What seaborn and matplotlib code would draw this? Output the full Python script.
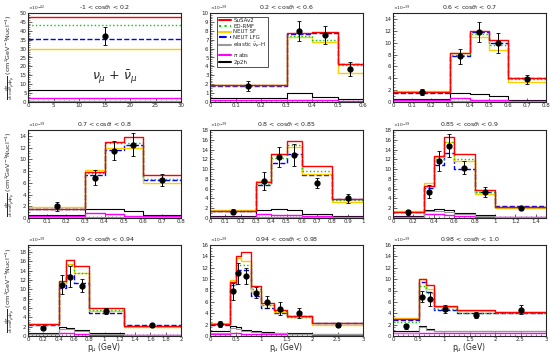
import numpy as np
import matplotlib.pyplot as plt
import seaborn as sns
from matplotlib.lines import Line2D

sns.set_style("ticks")

titles = ["-1 < cos$\\theta_l$ < 0.2", "0.2 < cos$\\theta_l$ < 0.6", "0.6 < cos$\\theta_l$ < 0.7",
          "0.7 < cos$\\theta_l$ < 0.8", "0.8 < cos$\\theta_l$ < 0.85", "0.85 < cos$\\theta_l$ < 0.9",
          "0.9 < cos$\\theta_l$ < 0.94", "0.94 < cos$\\theta_l$ < 0.98", "0.98 < cos$\\theta_l$ < 1.0"]

edges = [[0, 30],
         [0, 0.3, 0.4, 0.5, 0.6],
         [0, 0.3, 0.4, 0.5, 0.6, 0.8],
         [0, 0.3, 0.4, 0.5, 0.6, 0.8],
         [0, 0.3, 0.4, 0.5, 0.6, 0.8, 1.0],
         [0, 0.3, 0.4, 0.5, 0.6, 0.8, 1.0, 1.5],
         [0, 0.4, 0.5, 0.6, 0.8, 1.25, 2.0],
         [0, 0.4, 0.5, 0.6, 0.8, 1.0, 1.25, 1.5, 2.0, 3.0],
         [0, 0.5, 0.65, 0.8, 1.25, 2.0, 3.0]]

susav2 = [[48], [1.9, 7.7, 7.9, 4.3], [1.7, 8.2, 12.0, 10.5, 4.1], [1.6, 7.9, 13.0, 13.8, 7.3],
          [1.5, 7.3, 13.0, 15.8, 10.6, 3.9], [1.3, 6.6, 12.7, 16.5, 13.0, 5.8, 2.3],
          [2.5, 11.8, 16.3, 15.0, 5.9, 2.2], [2.1, 9.5, 14.1, 14.7, 8.8, 5.8, 4.5, 3.5, 2.2],
          [3.0, 10.1, 9.0, 5.3, 4.5, 4.3]]
edrmf = [[43.5], [1.9, 7.4, 7.0, 4.2], [1.7, 8.0, 11.5, 9.6, 3.8], [1.6, 7.6, 12.7, 12.8, 6.6],
         [1.5, 7.0, 12.2, 15.0, 9.6, 3.6], [1.3, 6.5, 12.0, 15.5, 12.0, 5.3, 2.3],
         [2.4, 11.5, 15.3, 13.6, 5.5, 2.1], [2.1, 9.0, 12.5, 12.5, 8.3, 5.5, 4.4, 3.4, 2.2],
         [2.4, 8.8, 7.5, 4.8, 4.0, 4.0]]
neut_sf = [[29.5], [1.95, 7.3, 6.7, 3.3], [1.8, 8.3, 11.0, 8.8, 3.3], [1.8, 8.2, 12.0, 12.0, 6.0],
           [1.6, 7.5, 13.0, 14.5, 8.9, 3.2], [1.4, 7.1, 12.5, 15.5, 11.6, 4.9, 2.1],
           [2.5, 11.4, 15.5, 13.5, 5.3, 2.0], [2.2, 9.8, 13.8, 13.2, 8.0, 5.4, 4.2, 3.3, 2.0],
           [3.1, 10.1, 8.2, 5.1, 4.4, 4.2]]
neut_lfg = [[35.5], [1.85, 7.6, 7.8, 4.3], [1.6, 7.8, 11.8, 10.0, 4.0], [1.5, 7.4, 11.6, 12.4, 6.5],
            [1.4, 6.8, 11.3, 13.0, 8.7, 3.8], [1.2, 6.2, 10.8, 13.3, 10.1, 5.3, 2.4],
            [2.3, 10.2, 13.0, 11.3, 5.0, 2.3], [2.0, 9.0, 11.6, 11.6, 7.0, 5.0, 4.0, 3.5, 2.2],
            [2.8, 9.5, 7.8, 4.6, 4.0, 4.0]]
elastic = [[0.4], [0.05, 0.05, 0.05, 0.05], [0.1, 0.1, 0.1, 0.1, 0.1], [0.2, 0.2, 0.2, 0.2, 0.2],
           [0.2, 0.3, 0.3, 0.3, 0.3, 0.2], [0.2, 1.4, 1.5, 1.3, 0.8, 0.5, 0.2],
           [0.5, 1.6, 1.4, 1.0, 0.5, 0.3], [0.6, 1.4, 1.2, 0.9, 0.7, 0.6, 0.5, 0.4, 0.3],
           [0.6, 1.6, 1.1, 0.8, 0.8, 0.8]]
pi_abs = [[2.0], [0.2, 0.2, 0.2, 0.1], [0.3, 0.6, 0.4, 0.3, 0.2], [0.3, 0.8, 0.6, 0.4, 0.3],
          [0.3, 0.8, 0.7, 0.6, 0.4, 0.2], [0.3, 0.8, 0.8, 0.6, 0.4, 0.3, 0.2],
          [0.4, 0.7, 0.6, 0.5, 0.3, 0.2], [0.4, 0.6, 0.5, 0.4, 0.3, 0.3, 0.3, 0.3, 0.2],
          [0.5, 0.6, 0.5, 0.5, 0.5, 0.5]]
two_p2h = [[7.0], [0.5, 1.0, 0.6, 0.3], [0.5, 1.6, 1.4, 1.0, 0.4], [0.5, 1.6, 1.6, 1.2, 0.5],
           [0.5, 1.7, 1.8, 1.6, 0.9, 0.4], [0.5, 1.7, 1.9, 1.6, 1.0, 0.6, 0.3],
           [0.7, 2.0, 1.7, 1.2, 0.6, 0.3], [0.8, 1.8, 1.5, 1.1, 0.8, 0.7, 0.6, 0.5, 0.3],
           [0.9, 1.8, 1.3, 0.9, 0.9, 0.9]]

data_x = [[15], [0.15, 0.35, 0.45, 0.55], [0.15, 0.35, 0.45, 0.55, 0.7], [0.15, 0.35, 0.45, 0.55, 0.7],
          [0.15, 0.35, 0.45, 0.55, 0.7, 0.9], [0.15, 0.35, 0.45, 0.55, 0.7, 0.9, 1.25],
          [0.2, 0.45, 0.55, 0.7, 1.025, 1.625], [0.2, 0.45, 0.55, 0.7, 0.9, 1.125, 1.375, 1.75, 2.5],
          [0.25, 0.575, 0.725, 1.025, 1.625, 2.5]]
data_y = [[37], [1.8, 8.0, 7.5, 3.7], [1.7, 7.7, 11.8, 10.0, 3.8], [2.0, 6.9, 11.5, 12.5, 6.5],
          [1.3, 7.6, 12.5, 12.9, 7.2, 4.0], [1.2, 5.4, 11.7, 14.8, 10.3, 5.3, 2.0],
          [1.7, 11.0, 12.7, 10.8, 5.4, 2.3], [2.1, 7.9, 11.0, 10.5, 7.6, 6.0, 4.8, 4.0, 1.9],
          [1.7, 6.9, 6.5, 4.7, 3.7, 4.6]]
data_err = [[5], [0.6, 1.1, 1.0, 0.8], [0.5, 1.3, 1.7, 1.7, 0.8], [0.8, 1.2, 1.6, 2.0, 1.0],
            [0.5, 1.8, 2.0, 2.2, 1.0, 0.9], [0.5, 1.3, 2.1, 2.3, 1.3, 1.0, 0.3],
            [0.4, 2.0, 2.3, 1.4, 0.7, 0.3], [0.6, 1.5, 1.9, 1.4, 1.0, 1.1, 1.1, 0.9, 0.3],
            [0.4, 1.0, 1.2, 0.7, 0.5, 0.8]]

ymax = [50, 10, 15, 15, 18, 18, 19.5, 16, 16]
ystep = [5, 1, 2, 2, 2, 2, 2, 2, 2]
xstep = [5, 0.1, 0.1, 0.1, 0.1, 0.2, 0.2, 0.5, 0.5]
scale = ["42", "39", "39", "39", "39", "39", "39", "39", "39"]

models = [("SuSAv2", susav2, "#ff0000", "-", 1.0),
          ("ED-RMF", edrmf, "#00cc00", ":", 1.0),
          ("NEUT SF", neut_sf, "#ffcc00", "-", 1.0),
          ("NEUT LFG", neut_lfg, "#0000ff", "--", 1.0),
          ("elastic $\\bar{\\nu}_\\mu$-H", elastic, "#999999", "-", 0.8),
          ("$\\pi$ abs", pi_abs, "#ff00ff", "-", 1.0),
          ("2p2h", two_p2h, "#000000", "-", 0.8)]

fig = plt.figure(figsize=(5.5, 3.55), dpi=100)
lefts = [28, 210, 393]
tops = [13, 130, 245]
bots = [102, 218, 336]
W, H = 550, 355

ylab = r"$\frac{d\sigma}{dcos\theta_\mu dp_\mu}$ (cm$^2$GeV$^{-1}$Nucl$^{-1}$)"

for i in range(9):
    r, c = divmod(i, 3)
    ax = fig.add_axes([lefts[c] / W, (H - bots[r]) / H, 153 / W, (bots[r] - tops[r]) / H])
    e = [float(v) for v in edges[i]]
    centers = [(a + b) / 2 for a, b in zip(e[:-1], e[1:])]
    for name, vals, col, ls, lw in models[::-1]:
        sns.histplot(x=centers, weights=vals[i], bins=e, element="step", fill=False,
                     color=col, linestyle=ls, linewidth=lw, ax=ax)
    ax.errorbar(data_x[i], data_y[i], yerr=data_err[i], fmt="o", color="black",
                ms=3.5, elinewidth=0.7, capsize=1.2, capthick=0.6, zorder=10)
    ax.set_xlim(e[0], e[-1])
    ax.set_ylim(0, ymax[i])
    ax.set_xticks(np.arange(0, e[-1] + 1e-6, xstep[i]))
    ax.set_yticks(np.arange(0, ymax[i] + 1e-6, ystep[i]))
    ax.xaxis.set_major_formatter(plt.FuncFormatter(lambda v, p: "%g" % round(v, 3)))
    ax.yaxis.set_major_formatter(plt.FuncFormatter(lambda v, p: "%g" % round(v, 3)))
    ax.tick_params(direction="in", labelsize=4, length=3, width=0.5, pad=1)
    ax.minorticks_on()
    ax.tick_params(which="minor", direction="in", length=1.5, width=0.4)
    ax.set_ylabel("")
    ax.set_xlabel("")
    for sp in ax.spines.values():
        sp.set_linewidth(0.8)
    ax.set_title(titles[i], fontsize=4.5, pad=3)
    ax.text(0.0, 1.005, "$\\times10^{-%s}$" % scale[i], transform=ax.transAxes,
            fontsize=3.2, ha="left", va="bottom")
    if c == 0:
        ax.set_ylabel(ylab, fontsize=4.6, labelpad=1)
    if r == 2:
        ax.set_xlabel("p$_\\mu$ (GeV)", fontsize=5.5, labelpad=0)
    if i == 0:
        ax.text(17, 14, "$\\nu_\\mu$ + $\\bar{\\nu}_\\mu$", fontsize=9, ha="center", va="center")
    if i == 1:
        handles = [Line2D([], [], color=col, linestyle=ls, linewidth=1.5)
                   for name, vals, col, ls, lw in models]
        leg = ax.legend(handles, [m[0] for m in models], loc="upper left", fontsize=4,
                        frameon=True, fancybox=False, edgecolor="black", handlelength=2.2,
                        borderpad=0.3, labelspacing=0.1, handletextpad=0.4,
                        bbox_to_anchor=(0.03, 0.99))
        leg.get_frame().set_linewidth(0.6)

fig.savefig("out.png", dpi=100)
